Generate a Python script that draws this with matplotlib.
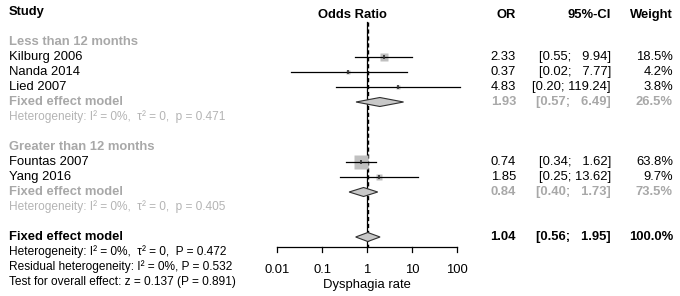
import numpy as np
import matplotlib
matplotlib.use('Agg')
import matplotlib.pyplot as plt

plt.rcParams['font.family'] = ['Liberation Sans', 'DejaVu Sans']

# study data
studies = ['Kilburg 2006', 'Nanda 2014', 'Lied 2007', 'Fountas 2007', 'Yang 2016']
study_rows = [3, 4, 5, 10, 11]
or_vals = [2.33, 0.37, 4.83, 0.74, 1.85]
ci_lo = [0.55, 0.02, 0.20, 0.34, 0.25]
ci_hi = [9.94, 7.77, 119.24, 1.62, 13.62]
weights = [18.5, 4.2, 3.8, 63.8, 9.7]
ci_txt = ['[0.55;   9.94]', '[0.02;   7.77]', '[0.20; 119.24]', '[0.34;   1.62]', '[0.25; 13.62]']

# pooled (subgroups + overall)
pooled_rows = [6, 12, 15]
pooled_or = [1.93, 0.84, 1.04]
pooled_lo = [0.57, 0.40, 0.56]
pooled_hi = [6.49, 1.73, 1.95]
pooled_w = ['26.5%', '73.5%', '100.0%']
pooled_ci_txt = ['[0.57;   6.49]', '[0.40;   1.73]', '[0.56;   1.95]']

subgroups = ['Less than 12 months', 'Greater than 12 months']
subgroup_rows = [2, 9]
het_txt = ['Heterogeneity: I² = 0%,  τ² = 0,  p = 0.471',
           'Heterogeneity: I² = 0%,  τ² = 0,  p = 0.405']
overall_txt = ['Heterogeneity: I² = 0%,  τ² = 0,  P = 0.472',
               'Residual heterogeneity: I² = 0%, P = 0.532',
               'Test for overall effect: z = 0.137 (P = 0.891)']
ticks = [0.01, 0.1, 1, 10, 100]
tick_labels = ['0.01', '0.1', '1', '10', '100']

W, H = 680, 296
gray = '#a8a8a8'
lgray = '#b4b4b4'
fs = 9.4
fs_small = 8.6

def row_of(px):
    return (px - 12) / 15.0

fig = plt.figure(figsize=(W / 100, H / 100), dpi=100)
fig.patch.set_facecolor('white')
ylim = (row_of(H), row_of(0))

ax = fig.add_axes([0, 0, 1, 1])
ax.set_xlim(0, W)
ax.set_ylim(*ylim)
ax.axis('off')

fax = fig.add_axes([0, 0, 1, 1])
fax.set_xscale('log')
fax.set_xlim(10 ** (-2 - 277 / 45), 10 ** (-2 + (W - 277) / 45))
fax.set_ylim(*ylim)
fax.axis('off')
fax.patch.set_alpha(0)

x_study, x_or, x_ci, x_w = 9, 516, 611, 673

# headers
ax.text(x_study, 0, 'Study', fontsize=fs, fontweight='bold', va='center')
ax.text(352, 0.2, 'Odds Ratio', fontsize=fs, fontweight='bold', va='center', ha='center')
ax.text(x_or, 0.2, 'OR', fontsize=fs, fontweight='bold', va='center', ha='right')
ax.text(x_ci, 0.2, '95%-CI', fontsize=fs, fontweight='bold', va='center', ha='right')
ax.text(x_w, 0.2, 'Weight', fontsize=fs, fontweight='bold', va='center', ha='right')

for name, r in zip(subgroups, subgroup_rows):
    ax.text(x_study, r, name, fontsize=fs, fontweight='bold', color=gray, va='center')

for name, r, o, c, w in zip(studies, study_rows, or_vals, ci_txt, weights):
    ax.text(x_study, r, name, fontsize=fs, va='center')
    ax.text(x_or, r, f'{o:.2f}', fontsize=fs, va='center', ha='right')
    ax.text(x_ci, r, c, fontsize=fs, va='center', ha='right')
    ax.text(x_w, r, f'{w:.1f}%', fontsize=fs, va='center', ha='right')

for i, (r, o, c, w) in enumerate(zip(pooled_rows, pooled_or, pooled_ci_txt, pooled_w)):
    col = 'black' if i == 2 else gray
    ax.text(x_study, r, 'Fixed effect model', fontsize=fs, fontweight='bold', color=col, va='center')
    ax.text(x_or, r, f'{o:.2f}', fontsize=fs, fontweight='bold', color=col, va='center', ha='right')
    ax.text(x_ci, r, c, fontsize=fs, fontweight='bold', color=col, va='center', ha='right')
    ax.text(x_w, r, w, fontsize=fs, fontweight='bold', color=col, va='center', ha='right')

for t, r in zip(het_txt, [7, 13]):
    ax.text(x_study, r, t, fontsize=fs_small, color=lgray, va='center')
for i, t in enumerate(overall_txt):
    ax.text(x_study, 16 + i, t, fontsize=fs_small, va='center')

# reference lines
r_top, r_ax = row_of(22), row_of(247)
fax.plot([1, 1], [r_top, r_ax], color='black', lw=0.9)
fax.plot([pooled_or[2]] * 2, [r_top, r_ax], color='black', lw=1.0, ls=(0, (3, 2)))

# study CIs and squares
wmax = max(weights)
for r, o, lo, hi, w in zip(study_rows, or_vals, ci_lo, ci_hi, weights):
    fax.plot(o, r, marker='s', ms=9.4 * np.sqrt(w / wmax), color='#c0c0c0', mec='none')
    fax.plot([lo, hi], [r, r], color='black', lw=0.9)
    fax.plot(o, r, marker='|', ms=3, color='#303030', mew=1.2)

# diamonds
h = 0.3
for r, o, lo, hi in zip(pooled_rows, pooled_or, pooled_lo, pooled_hi):
    fax.fill([lo, o, hi, o], [r, r - h, r, r + h], facecolor='#c8c8c8', edgecolor='#303030', lw=0.8, zorder=3)

# x axis
fax.plot([ticks[0], ticks[-1]], [r_ax, r_ax], color='black', lw=0.9)
for t, lab in zip(ticks, tick_labels):
    fax.plot([t, t], [r_ax, r_ax + 0.33], color='black', lw=0.9)
    fax.text(t, row_of(270), lab, fontsize=fs, ha='center', va='center')
fax.text(1, row_of(285), 'Dysphagia rate', fontsize=fs, ha='center', va='center')

fig.savefig('out.png', dpi=100, facecolor='white')
